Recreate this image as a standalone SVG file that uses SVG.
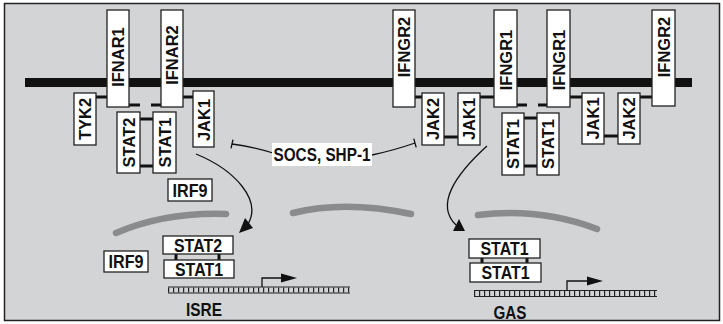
<svg xmlns="http://www.w3.org/2000/svg" width="723" height="324" viewBox="0 0 723 324">
<style>
.box{fill:#fff;stroke:#222;stroke-width:1.3}
.t{font-family:"Liberation Sans",Arial,sans-serif;font-weight:bold;fill:#111;text-anchor:middle}
.v{font-size:16.5px}
.h{font-size:17.5px}
.c{stroke:#111;stroke-width:3;fill:none}
.thin{stroke:#111;stroke-width:1.3;fill:none}
.band{stroke:#8a8b8d;stroke-width:6.5;fill:none;stroke-linecap:round}
.dna{stroke:#222;stroke-width:1.2;fill:none}
.tick{stroke:#222;stroke-width:5;stroke-dasharray:1.2 3.8;fill:none}
</style>
<rect x="4.5" y="3.5" width="715" height="317" fill="#d3d4d6" stroke="#222" stroke-width="1.5"/>
<!-- nuclear membrane bands -->
<path class="band" d="M116,233 Q165,212 226,214"/>
<path class="band" d="M293,213 Q345,200 411,214"/>
<path class="band" d="M478,215 C520,210 560,215 597,229"/>
<!-- cell membrane -->
<rect x="25" y="78" width="667" height="9" fill="#111"/>
<g id="connectors">
<line class="c" x1="96" y1="97" x2="107" y2="97"/>
<line class="c" x1="183" y1="97" x2="193" y2="97"/>
<line class="c" x1="129" y1="105" x2="140" y2="105"/>
<line class="c" x1="151" y1="105" x2="161" y2="105"/>
<line class="c" x1="140" y1="119" x2="153" y2="119"/>
<line class="c" x1="140" y1="166" x2="153" y2="166"/>
<line class="c" x1="415" y1="97" x2="422" y2="97"/>
<line class="c" x1="444" y1="137" x2="458" y2="137"/>
<line class="c" x1="480" y1="97" x2="494" y2="97"/>
<line class="c" x1="517" y1="105" x2="527" y2="105"/>
<line class="c" x1="538" y1="105" x2="547" y2="105"/>
<line class="c" x1="524" y1="118" x2="537" y2="118"/>
<line class="c" x1="524" y1="166" x2="537" y2="166"/>
<line class="c" x1="570" y1="97" x2="582" y2="97"/>
<line class="c" x1="604" y1="136" x2="618" y2="136"/>
<line class="c" x1="640" y1="97" x2="652" y2="97"/>
<line class="c" stroke-width="2.2" x1="176" y1="254" x2="176" y2="260"/>
<line class="c" stroke-width="2.2" x1="219" y1="254" x2="219" y2="260"/>
<line class="c" stroke-width="2.2" x1="482" y1="258" x2="482" y2="263"/>
<line class="c" stroke-width="2.2" x1="527" y1="258" x2="527" y2="263"/>
<path class="thin" d="M273,153 Q250,146 232,144"/>
<line class="thin" x1="233" y1="139.6" x2="231" y2="148.4"/>
<path class="thin" d="M372,155 Q395,150 415,143"/>
<line class="thin" x1="413.8" y1="138.7" x2="416.2" y2="147.3"/>
<path class="thin" d="M196,154 C235,170 262,200 248,224"/>
<polygon points="239,233 253,228 245,218" fill="#111"/>
<path class="thin" d="M487,146 C455,175 435,205 456,225"/>
<polygon points="465,231 453,231 459,219" fill="#111"/>
</g>
<g id="isre-dna">
<line class="dna" x1="168" y1="287" x2="350" y2="287"/>
<line class="dna" x1="168" y1="293" x2="350" y2="293"/>
<line class="tick" x1="168" y1="290" x2="350" y2="290"/>
<polyline class="thin" points="262,287 262,278 282,278"/>
<polygon points="281,273.5 297,278 281,282.5" fill="#111"/>
<text class="t h" x="204" y="316" textLength="36" lengthAdjust="spacingAndGlyphs">ISRE</text>
</g>
<g id="gas-dna">
<line class="dna" x1="474" y1="290.5" x2="657" y2="290.5"/>
<line class="dna" x1="474" y1="296.5" x2="657" y2="296.5"/>
<line class="tick" x1="474" y1="293.5" x2="657" y2="293.5"/>
<polyline class="thin" points="567,290.5 567,281 588,281"/>
<polygon points="587,276.5 603,281 587,285.5" fill="#111"/>
<text class="t h" x="510" y="319" textLength="33" lengthAdjust="spacingAndGlyphs">GAS</text>
</g>
<g id="IFNAR1"><rect class="box" x="107" y="10" width="22" height="97"/><text class="t v" transform="translate(118,57) rotate(-90)" y="6">IFNAR1</text></g>
<g id="IFNAR2"><rect class="box" x="161" y="10" width="22" height="97"/><text class="t v" transform="translate(172,55) rotate(-90)" y="6">IFNAR2</text></g>
<g id="TYK2"><rect class="box" x="74" y="93" width="22" height="52"/><text class="t v" transform="translate(85,119) rotate(-90)" y="6">TYK2</text></g>
<g id="JAK1a"><rect class="box" x="193" y="91" width="21" height="56"/><text class="t v" transform="translate(203.5,120) rotate(-90)" y="6">JAK1</text></g>
<g id="STAT2a"><rect class="box" x="117" y="112" width="23" height="61"/><text class="t v" transform="translate(128.5,142.5) rotate(-90)" y="6">STAT2</text></g>
<g id="STAT1a"><rect class="box" x="153" y="112" width="23" height="61"/><text class="t v" transform="translate(164.5,142.5) rotate(-90)" y="6">STAT1</text></g>
<g id="IRF9a"><rect class="box" x="168" y="179" width="44" height="22"/><text class="t h" x="190" y="196.5" textLength="35" lengthAdjust="spacingAndGlyphs">IRF9</text></g>
<g id="IFNGR2a"><rect class="box" x="393" y="10" width="22" height="97"/><text class="t v" transform="translate(404,47) rotate(-90)" y="6">IFNGR2</text></g>
<g id="JAK2a"><rect class="box" x="422" y="93" width="22" height="52"/><text class="t v" transform="translate(433,119) rotate(-90)" y="6">JAK2</text></g>
<g id="JAK1b"><rect class="box" x="458" y="93" width="22" height="52"/><text class="t v" transform="translate(469,119) rotate(-90)" y="6">JAK1</text></g>
<g id="IFNGR1a"><rect class="box" x="494" y="10" width="23" height="97"/><text class="t v" transform="translate(505.5,60) rotate(-90)" y="6">IFNGR1</text></g>
<g id="IFNGR1b"><rect class="box" x="547" y="10" width="23" height="97"/><text class="t v" transform="translate(558.5,60) rotate(-90)" y="6">IFNGR1</text></g>
<g id="STAT1b"><rect class="box" x="502" y="113" width="22" height="62"/><text class="t v" transform="translate(513,144) rotate(-90)" y="6">STAT1</text></g>
<g id="STAT1c"><rect class="box" x="537" y="113" width="22" height="62"/><text class="t v" transform="translate(548,144) rotate(-90)" y="6">STAT1</text></g>
<g id="JAK1c"><rect class="box" x="582" y="93" width="22" height="51"/><text class="t v" transform="translate(593,118.5) rotate(-90)" y="6">JAK1</text></g>
<g id="JAK2b"><rect class="box" x="618" y="93" width="22" height="51"/><text class="t v" transform="translate(629,118.5) rotate(-90)" y="6">JAK2</text></g>
<g id="IFNGR2b"><rect class="box" x="652" y="10" width="23" height="96"/><text class="t v" transform="translate(663.5,47) rotate(-90)" y="6">IFNGR2</text></g>
<g id="SOCS"><rect x="272" y="143" width="100" height="23" fill="#fff"/><text class="t h" x="322" y="161" textLength="97" lengthAdjust="spacingAndGlyphs">SOCS, SHP-1</text></g>
<g id="IRF9b"><rect class="box" x="104" y="251" width="44" height="21"/><text class="t h" x="126" y="268" textLength="35" lengthAdjust="spacingAndGlyphs">IRF9</text></g>
<g id="STAT2n"><rect class="box" x="163" y="236" width="70" height="18"/><text class="t h" x="198" y="251.5" textLength="48" lengthAdjust="spacingAndGlyphs">STAT2</text></g>
<g id="STAT1n"><rect class="box" x="164" y="260" width="70" height="18"/><text class="t h" x="199" y="275.5" textLength="48" lengthAdjust="spacingAndGlyphs">STAT1</text></g>
<g id="STAT1g1"><rect class="box" x="469" y="239" width="71" height="19"/><text class="t h" x="504.5" y="255" textLength="48" lengthAdjust="spacingAndGlyphs">STAT1</text></g>
<g id="STAT1g2"><rect class="box" x="470" y="263" width="71" height="19"/><text class="t h" x="505.5" y="279" textLength="48" lengthAdjust="spacingAndGlyphs">STAT1</text></g>
</svg>
